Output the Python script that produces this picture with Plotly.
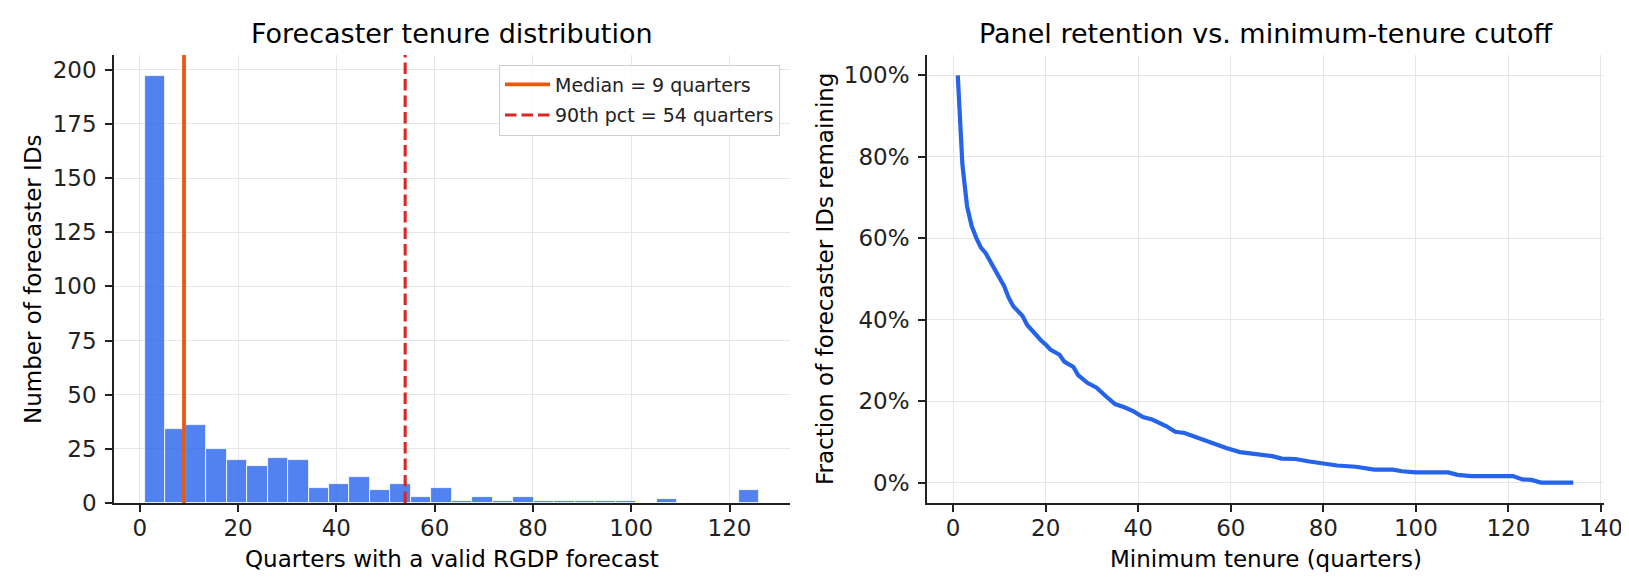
import plotly.graph_objects as go

# histogram of tenure (quarters with a valid RGDP forecast)
tenure_min = 1
tenure_max = 126
n_bins = 30
bin_counts = [197, 34, 36, 25, 20, 17, 21, 20, 7, 9,
              12, 6, 9, 3, 7, 1, 3, 1, 3, 1,
              1, 1, 1, 1, 0, 2, 0, 0, 0, 6]
median_q = 9
p90_q = 54

# retention curve
min_tenure = [1, 2, 3, 4, 5, 6, 7, 8, 9, 10, 11, 12, 13, 14, 15, 16, 17, 18, 19, 20,
              21, 23, 24, 26, 27, 29, 31, 33, 35, 37, 39, 41, 43, 46, 48, 50, 53, 56,
              57, 59, 62, 65, 69, 71, 74, 77, 80, 83, 87, 91, 95, 97, 100, 107, 109,
              112, 121, 123, 125, 127, 134]
retention = [1.000, 0.781, 0.679, 0.630, 0.601, 0.577, 0.564, 0.544, 0.519, 0.499,
             0.483, 0.454, 0.433, 0.421, 0.409, 0.387, 0.374, 0.364, 0.349, 0.339,
             0.327, 0.314, 0.297, 0.284, 0.264, 0.245, 0.233, 0.212, 0.193, 0.185,
             0.175, 0.161, 0.155, 0.139, 0.125, 0.122, 0.110, 0.096, 0.093, 0.085,
             0.075, 0.070, 0.065, 0.059, 0.058, 0.052, 0.047, 0.042, 0.039, 0.032,
             0.032, 0.028, 0.025, 0.025, 0.019, 0.016, 0.016, 0.008, 0.0066, 0.0, 0.0]

W, H = 1629, 579
FONT = "DejaVu Sans"
INK = "#222222"
GRID = "#e6e6e6"

bw = (tenure_max - tenure_min) / n_bins
centers = [tenure_min + bw * (i + 0.5) for i in range(n_bins)]

fig = go.Figure()

fig.add_trace(go.Bar(
    x=centers, y=bin_counts, width=bw,
    marker=dict(color="rgba(37,99,235,0.8)", line=dict(color="white", width=0.8)),
    showlegend=False, xaxis="x", yaxis="y"))

# legend-only entries for the two vertical lines
fig.add_trace(go.Scatter(x=[None], y=[None], mode="lines", legendgroup="med",
                         line=dict(color="#ea580c", width=3.8),
                         name=f"Median = {median_q} quarters", xaxis="x", yaxis="y"))
fig.add_trace(go.Scatter(x=[None], y=[None], mode="lines", legendgroup="p90",
                         line=dict(color="#dc2626", width=3.1, dash="11.5px,5px"),
                         name=f"90th pct = {p90_q} quarters", xaxis="x", yaxis="y"))

fig.add_trace(go.Scatter(x=min_tenure, y=retention, mode="lines",
                         line=dict(color="#2563eb", width=4.2),
                         showlegend=False, xaxis="x2", yaxis="y2"))

fig.add_shape(type="line", xref="x", yref="y domain", x0=median_q, x1=median_q, y0=0, y1=1,
              line=dict(color="#ea580c", width=3.8), layer="above")
fig.add_shape(type="line", xref="x", yref="y domain", x0=p90_q, x1=p90_q, y0=0, y1=1,
              line=dict(color="#dc2626", width=3.1, dash="11.5px,5px"), layer="above")

ax_common = dict(showline=True, linecolor=INK, linewidth=1.6, mirror=False,
                 ticks="outside", ticklen=7, tickwidth=1.6, tickcolor=INK,
                 showgrid=True, gridcolor=GRID, gridwidth=1.2, zeroline=False,
                 automargin=False,
                 tickfont=dict(family=FONT, size=23, color=INK))
x_ax = dict(ax_common, ticklabelstandoff=-3)
y_ax = dict(ax_common, ticklabelstandoff=4)

y0p = (H - 495) / H
y1p = (H - 47) / H

fig.update_layout(
    width=W, height=H,
    margin=dict(l=0, r=0, t=0, b=0, pad=0, autoexpand=False),
    paper_bgcolor="white", plot_bgcolor="white",
    font=dict(family=FONT, color=INK),
    bargap=0,
    xaxis=dict(domain=[106 / W, 781.7 / W], range=[-5.25, 132.25],
               tickmode="linear", tick0=0, dtick=20, anchor="y", **x_ax),
    yaxis=dict(domain=[y0p, y1p], range=[0, 206.85],
               tickmode="linear", tick0=0, dtick=25, anchor="x", **y_ax),
    xaxis2=dict(domain=[919 / W, 1596 / W], range=[-5.65, 140.65],
                tickmode="linear", tick0=0, dtick=20, anchor="y2", **x_ax),
    yaxis2=dict(domain=[y0p, y1p], range=[-0.05, 1.05],
                tickmode="linear", tick0=0, dtick=0.2, tickformat=".0%", anchor="x2",
                **y_ax),
    legend=dict(x=772 / W, xanchor="right", y=1 - 56.5 / H, yanchor="top",
                bgcolor="rgba(255,255,255,0.85)", bordercolor="#cfcfcf", borderwidth=1,
                font=dict(family=FONT, size=19, color=INK),
                itemwidth=45, tracegroupgap=3),
)

def label(text, x, y, size, xanchor="center", yanchor="middle", angle=0):
    fig.add_annotation(text=text, x=x / W, y=1 - y / H, xref="paper", yref="paper",
                       showarrow=False, xanchor=xanchor, yanchor=yanchor, textangle=angle,
                       font=dict(family=FONT, size=size, color="black"))

label("Forecaster tenure distribution", (106 + 781.7) / 2, 25, 27)
label("Panel retention vs. minimum-tenure cutoff", (919 + 1596) / 2, 25, 27)
label("Quarters with a valid RGDP forecast", (106 + 781.7) / 2, 551, 23)
label("Minimum tenure (quarters)", (919 + 1596) / 2, 551, 23)
label("Number of forecaster IDs", 25, 271, 23, angle=-90)
label("Fraction of forecaster IDs remaining", 817, 271, 23, angle=-90)

fig.write_html("out.html")
